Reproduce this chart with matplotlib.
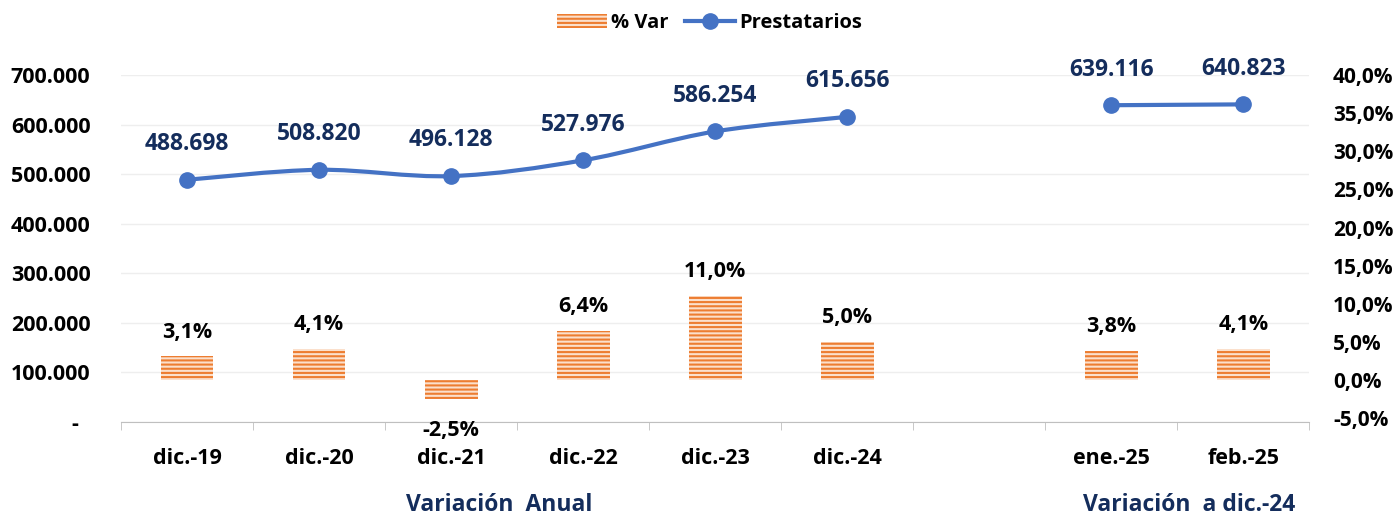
# -*- coding: utf-8 -*-
import matplotlib.pyplot as plt
from matplotlib.path import Path
from matplotlib.patches import PathPatch, Patch
from matplotlib.lines import Line2D
import numpy as np


def smooth_path(x, y):
    verts = [(x[0], y[0])]
    codes = [Path.MOVETO]
    n = len(x)
    for i in range(n-1):
        x0, y0 = (x[i-1], y[i-1]) if i > 0 else (x[i], y[i])
        x3, y3 = (x[i+2], y[i+2]) if i+2 < n else (x[i+1], y[i+1])
        c1 = (x[i] + (x[i+1]-x0)/6.0, y[i] + (y[i+1]-y0)/6.0)
        c2 = (x[i+1] - (x3-x[i])/6.0, y[i+1] - (y3-y[i])/6.0)
        verts += [c1, c2, (x[i+1], y[i+1])]
        codes += [Path.CURVE4]*3
    return Path(verts, codes)

def miles(v):
    if v == 0:
        return "-  "
    return "{:,.0f}".format(v).replace(",", ".")

#----------data

labels = ['dic.-19', 'dic.-20', 'dic.-21', 'dic.-22', 'dic.-23', 'dic.-24', '', 'ene.-25', 'feb.-25']
pos = [0, 1, 2, 3, 4, 5, 7, 8]
prest = [488698, 508820, 496128, 527976, 586254, 615656, 639116, 640823]
var = [3.1, 4.1, -2.5, 6.4, 11.0, 5.0, 3.8, 4.1]

plt.rcParams['font.family'] = ['Open Sans', 'DejaVu Sans']
plt.rcParams['font.weight'] = 'bold'
plt.rcParams['font.size'] = 15.5
plt.rcParams['hatch.linewidth'] = 1.5

BLUE = '#4472C4'
NAVY = '#142D5C'
ORANGE = '#ED7D31'

fig = plt.figure(figsize=(13.99, 5.14), dpi=100)
ax1 = plt.axes([0.0865, 0.179, 0.8495, 0.675])
plt.ylim(0, 700000)
plt.xlim(-0.5, 8.5)
plt.yticks(np.arange(0, 700001, 100000), [miles(v) for v in np.arange(0, 700001, 100000)])
plt.grid(axis='y', color='#eeeeee', linewidth=1)
ax1.set_axisbelow(True)
plt.xticks(range(9), labels)
ax1.set_xticks(np.arange(-0.5, 9, 1.0), minor=True)
ax1.tick_params(axis='x', which='major', length=0, pad=19)
ax1.tick_params(axis='x', which='minor', length=6, color='#bfbfbf')
ax1.tick_params(axis='y', length=0, pad=22)
for s in ['top', 'left', 'right']:
    ax1.spines[s].set_visible(False)
ax1.spines['bottom'].set_color('#bfbfbf')

# prestatarios (smooth line, broken between dic.-24 and ene.-25)
for a, b in [(0, 6), (6, 8)]:
    xs, ys = pos[a:b], prest[a:b]
    ax1.add_patch(PathPatch(smooth_path(xs, ys), facecolor='none', edgecolor=BLUE, linewidth=3, zorder=3))
    plt.plot(xs, ys, 'o', color=BLUE, markersize=11, zorder=4)
for x, v in zip(pos, prest):
    plt.annotate(miles(v), (x, v), xytext=(0, 17), textcoords='offset points',
                 ha='center', va='bottom', color=NAVY, fontsize=16.5)

# % var bars
ax2 = plt.twinx()
plt.ylim(-5.5, 40)
plt.yticks(np.arange(-5, 41, 5), [("%.1f%%" % v).replace(".", ",") for v in np.arange(-5, 41, 5)])
for lbl in ax2.get_yticklabels():
    lbl.set_horizontalalignment('left')
    lbl.set_fontsize(15)
ax2.tick_params(axis='y', length=0, pad=17)
for s in ax2.spines.values():
    s.set_visible(False)
plt.bar(pos, var, width=0.4, facecolor='#FBE0CC', edgecolor=ORANGE, hatch='----', linewidth=0)
for x, v in zip(pos, var):
    txt = ("%.1f%%" % v).replace(".", ",")
    if v >= 0:
        plt.annotate(txt, (x, v), xytext=(0, 10), textcoords='offset points', ha='center', va='bottom')
    else:
        plt.annotate(txt, (x, v), xytext=(0, -15), textcoords='offset points', ha='center', va='top')

fig.text(0.357, 0.018, "Variación  Anual", ha='center', va='center', color=NAVY, fontsize=16.5)
fig.text(0.85, 0.018, "Variación  a dic.-24", ha='center', va='center', color=NAVY, fontsize=16.5)

handles = [Patch(facecolor='#FBE0CC', edgecolor=ORANGE, hatch='----', linewidth=0),
           Line2D([0], [0], color=BLUE, linewidth=3, marker='o', markersize=11)]
fig.legend(handles, ['% Var', 'Prestatarios'], loc='upper center', bbox_to_anchor=(0.507, 1.01),
           ncol=2, frameon=False, handlelength=2.5, columnspacing=0.8, handletextpad=0.2,
           fontsize=14.5)

plt.savefig('out.png', dpi=100)
